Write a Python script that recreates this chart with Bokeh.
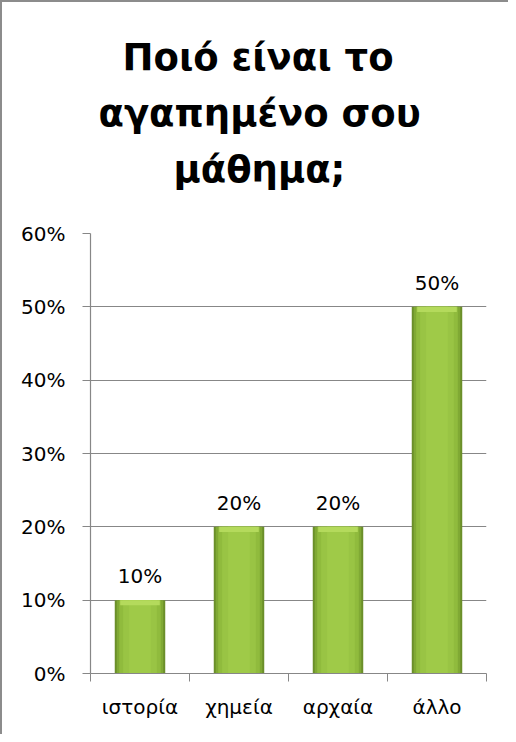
from bokeh.plotting import figure
from bokeh.models import (ColumnDataSource, FixedTicker, NumeralTickFormatter,
                          LabelSet, Range1d, Title)
from bokeh.core.properties import value
from bokeh.embed import file_html
from bokeh.resources import INLINE

# ---- data ----
categories = ["ιστορία", "χημεία", "αρχαία", "άλλο"]
values = [0.10, 0.20, 0.20, 0.50]
value_labels = ["10%", "20%", "20%", "50%"]
y_ticks = [0.0, 0.1, 0.2, 0.3, 0.4, 0.5, 0.6]
title_lines = ["Ποιό είναι το", "αγαπημένο σου", "μάθημα;"]

xs = [i + 0.5 for i in range(len(categories))]
src = ColumnDataSource(dict(x=xs, top=values, lab=value_labels,
                            bevel=[v - 0.007 for v in values]))

FONT = "DejaVu Sans"
GRAY = "#878787"

p = figure(width=508, height=734, output_backend="svg", toolbar_location=None,
           x_range=Range1d(0, len(categories)), y_range=Range1d(0, 0.6),
           min_border_left=88, min_border_right=24, min_border_top=231,
           min_border_bottom=63, outline_line_color=None,
           background_fill_color="white", border_fill_color="white")

p.styles = {"border-top": "2px solid #8c8c8c", "border-left": "2px solid #8c8c8c"}

# title: spacer next to the frame, then the three lines, bottom line first
p.add_layout(Title(text=" ", text_font_size="2px", standoff=33), "above")
line_offsets = [32, 8, 83]   # left offsets that centre each line over the chart
for line, off in reversed(list(zip(title_lines, line_offsets))):
    p.add_layout(Title(text=line, align="left", offset=off, standoff=11,
                       text_font=FONT, text_font_size="37px",
                       text_font_style="bold", text_color="black"), "above")

# bars: layered to mimic the horizontal gradient
for w, c in [(0.51, "#6b8f2a"), (0.47, "#80a934"), (0.42, "#90bb3d"),
             (0.34, "#99c444"), (0.22, "#9fca48")]:
    p.vbar(x="x", top="top", bottom=0, width=w, source=src, fill_color=c,
           line_color=None)
p.vbar(x="x", top="top", bottom="bevel", width=0.40, source=src,
       fill_color="#b4da5c", line_color=None)

labels = LabelSet(x="x", y="top", text="lab", source=src, text_align="center",
                  text_baseline="middle", y_offset=24, text_font=value(FONT),
                  text_font_size=value("20px"), text_color="black")
p.add_layout(labels)

# axes
p.xaxis.ticker = FixedTicker(ticks=xs, minor_ticks=list(range(len(categories) + 1)))
p.xaxis.major_label_overrides = {x: c for x, c in zip(xs, categories)}
p.xaxis.major_tick_line_color = None
p.xaxis.minor_tick_line_color = GRAY
p.xaxis.minor_tick_out = 8
p.xaxis.minor_tick_in = 0
p.xaxis.major_label_standoff = 13

p.yaxis.ticker = FixedTicker(ticks=y_ticks)
p.yaxis.formatter = NumeralTickFormatter(format="0%")
p.yaxis.major_tick_line_color = GRAY
p.yaxis.major_tick_out = 8
p.yaxis.major_tick_in = 0
p.yaxis.minor_tick_line_color = None
p.yaxis.major_label_standoff = 17

for ax in (p.xaxis, p.yaxis):
    ax.axis_line_color = GRAY
    ax.axis_line_width = 1.2
    ax.major_label_text_font = FONT
    ax.major_label_text_font_size = "20px"
    ax.major_label_text_color = "black"

p.xgrid.grid_line_color = None
p.ygrid.grid_line_color = GRAY
p.ygrid.grid_line_width = 1.2
p.ygrid.ticker = FixedTicker(ticks=y_ticks)

open("out.html", "w").write(file_html(p, INLINE))
